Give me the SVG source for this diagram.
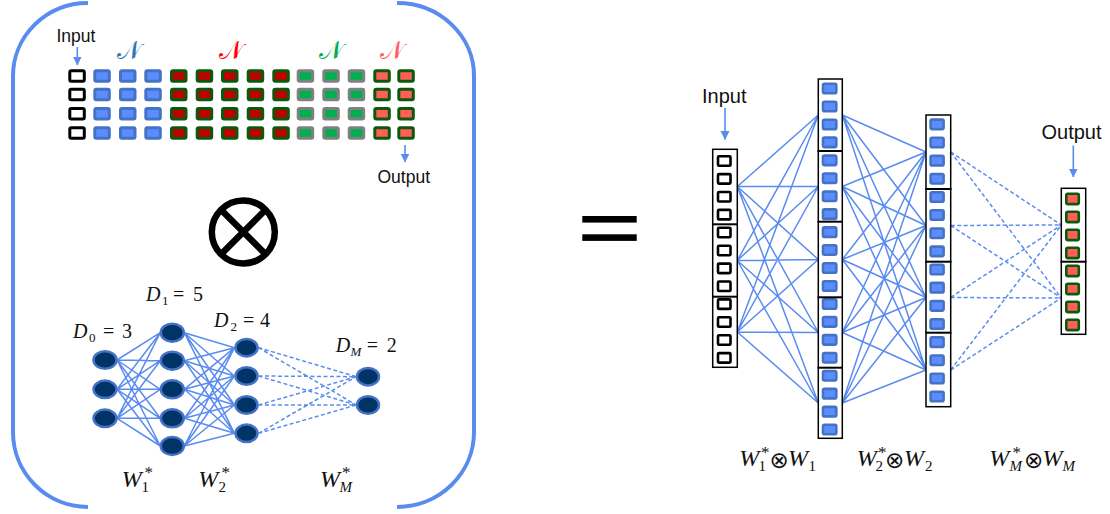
<svg xmlns="http://www.w3.org/2000/svg" width="1110" height="514" viewBox="0 0 1110 514">
  <defs>
    <marker id="arrow" markerWidth="9" markerHeight="10" refX="8.5" refY="5" orient="auto" markerUnits="userSpaceOnUse">
      <path d="M0,0.5 L9,5 L0,9.5 Z" fill="#5A8CF0"/>
    </marker>
    <style>
      .frame { fill: none; stroke: #5A8CF0; stroke-width: 4; }
      .lbl { font-family: "Liberation Sans", Arial, sans-serif; fill: #111; }
      .arr { stroke: #5A8CF0; stroke-width: 1.6; fill: none; marker-end: url(#arrow); }
      .scr { font-family: "DejaVu Serif", "Noto Sans", serif; font-size: 25px; text-anchor: middle; }
      .m { font-family: "Liberation Serif", "Times New Roman", serif; fill: #111; }
      .it { font-style: italic; }
      .op { font-family: "DejaVu Sans", sans-serif; }
      .c-in { fill: #fff; stroke: #000; stroke-width: 3; }
      .c-bl { fill: #5B8DFF; stroke: #4472C4; stroke-width: 3; }
      .c-rd { fill: #C00000; stroke: #0B5A0B; stroke-width: 3; }
      .c-gr { fill: #00B050; stroke: #808080; stroke-width: 3; }
      .c-sa { fill: #FF5F57; stroke: #0B5A0B; stroke-width: 3; }
      .r-in { fill: #fff; stroke: #000; stroke-width: 2.6; }
      .r-bl { fill: #5B8DFF; stroke: #4472C4; stroke-width: 2.6; }
      .r-sa { fill: #FF5F57; stroke: #0B5A0B; stroke-width: 2.6; }
      .col { fill: #fff; stroke: #000; stroke-width: 1.5; }
      .div { stroke: #000; stroke-width: 2; }
      .node { fill: #003366; stroke: #4472C4; stroke-width: 2.5; }
      .w { stroke: #5A8CF0; stroke-width: 1.5; fill: none; }
      .wd { stroke: #5A8CF0; stroke-width: 1.5; fill: none; stroke-dasharray: 4 2.5; }
    </style>
  </defs>

  <rect width="1110" height="514" fill="#fff"/>

  <!-- bracket frame around the left panel -->
  <g id="frame">
    <path class="frame" d="M88,3 A75,73 0 0 0 13,76 L13,432 A75,75 0 0 0 88,507"/>
    <path class="frame" d="M397,3 A77,73 0 0 1 474,76 L474,432 A77,75 0 0 1 397,507"/>
  </g>

  <!-- connectors -->
  <g id="connectors">
    <!-- left panel: grid input/output arrows -->
    <line class="arr" x1="77.3" y1="47" x2="77.3" y2="65"/>
    <line class="arr" x1="405" y1="145" x2="405" y2="162"/>
    <!-- left panel: small network -->
    <path class="w" d="M117,360 L160.3,332.7 M117,360 L160.3,360.7 M117,360 L160.3,389.3 M117,360 L160.3,418.3 M117,360 L160.3,446
      M117,389.3 L160.3,332.7 M117,389.3 L160.3,360.7 M117,389.3 L160.3,389.3 M117,389.3 L160.3,418.3 M117,389.3 L160.3,446
      M117,418.3 L160.3,332.7 M117,418.3 L160.3,360.7 M117,418.3 L160.3,389.3 M117,418.3 L160.3,418.3 M117,418.3 L160.3,446"/>
    <path class="w" d="M184.3,332.7 L234.5,347.7 M184.3,332.7 L234.5,376 M184.3,332.7 L234.5,405 M184.3,332.7 L234.5,433.3
      M184.3,360.7 L234.5,347.7 M184.3,360.7 L234.5,376 M184.3,360.7 L234.5,405 M184.3,360.7 L234.5,433.3
      M184.3,389.3 L234.5,347.7 M184.3,389.3 L234.5,376 M184.3,389.3 L234.5,405 M184.3,389.3 L234.5,433.3
      M184.3,418.3 L234.5,347.7 M184.3,418.3 L234.5,376 M184.3,418.3 L234.5,405 M184.3,418.3 L234.5,433.3
      M184.3,446 L234.5,347.7 M184.3,446 L234.5,376 M184.3,446 L234.5,405 M184.3,446 L234.5,433.3"/>
    <path class="wd" d="M258.5,347.7 L356.3,376.7 M258.5,347.7 L356.3,405
      M258.5,376 L356.3,376.7 M258.5,376 L356.3,405
      M258.5,405 L356.3,376.7 M258.5,405 L356.3,405
      M258.5,433.3 L356.3,376.7 M258.5,433.3 L356.3,405"/>

    <!-- right side: input/output arrows -->
    <line class="arr" x1="725" y1="108" x2="725" y2="139.5"/>
    <line class="arr" x1="1073.3" y1="145.5" x2="1073.3" y2="177"/>
    <!-- right side: expanded network -->
    <path class="w" d="M737.3,186.5 L818.3,115 M737.3,186.5 L818.3,186.5 M737.3,186.5 L818.3,259.5 M737.3,186.5 L818.3,332.5 M737.3,186.5 L818.3,403
      M737.3,260.5 L818.3,115 M737.3,260.5 L818.3,186.5 M737.3,260.5 L818.3,259.5 M737.3,260.5 L818.3,332.5 M737.3,260.5 L818.3,403
      M737.3,332 L818.3,115 M737.3,332 L818.3,186.5 M737.3,332 L818.3,259.5 M737.3,332 L818.3,332.5 M737.3,332 L818.3,403"/>
    <path class="w" d="M842.3,115 L926,152 M842.3,115 L926,225.5 M842.3,115 L926,297.5 M842.3,115 L926,370
      M842.3,186.5 L926,152 M842.3,186.5 L926,225.5 M842.3,186.5 L926,297.5 M842.3,186.5 L926,370
      M842.3,259.5 L926,152 M842.3,259.5 L926,225.5 M842.3,259.5 L926,297.5 M842.3,259.5 L926,370
      M842.3,332.5 L926,152 M842.3,332.5 L926,225.5 M842.3,332.5 L926,297.5 M842.3,332.5 L926,370
      M842.3,403 L926,152 M842.3,403 L926,225.5 M842.3,403 L926,297.5 M842.3,403 L926,370"/>
    <path class="wd" d="M950.7,152 L1061.3,225 M950.7,152 L1061.3,298
      M950.7,225.5 L1061.3,225 M950.7,225.5 L1061.3,298
      M950.7,297.5 L1061.3,225 M950.7,297.5 L1061.3,298
      M950.7,370 L1061.3,225 M950.7,370 L1061.3,298"/>
  </g>

  <!-- left panel: block grid -->
  <g id="grid-labels">
    <text class="lbl" x="56.5" y="42" font-size="17.5">Input</text>
    <text class="lbl" x="377.5" y="183" font-size="17.5">Output</text>
    <text class="scr" x="129" y="59" fill="#2E75B6">𝒩</text>
    <text class="scr" x="231" y="59" fill="#FF0000">𝒩</text>
    <text class="scr" x="331" y="59" fill="#00B050">𝒩</text>
    <text class="scr" x="392" y="59" fill="#FF5F5F">𝒩</text>
  </g>
  <g id="grid-input">
    <rect class="c-in" x="69.8" y="70.8" width="14.5" height="10.5" rx="1.5"/>
    <rect class="c-in" x="69.8" y="89.3" width="14.5" height="10.5" rx="1.5"/>
    <rect class="c-in" x="69.8" y="108.5" width="14.5" height="10.5" rx="1.5"/>
    <rect class="c-in" x="69.8" y="127.8" width="14.5" height="10.5" rx="1.5"/>
  </g>
  <g id="grid-blue">
    <rect class="c-bl" x="94.8" y="70.8" width="14.5" height="10.5" rx="1.5"/>
    <rect class="c-bl" x="94.8" y="89.3" width="14.5" height="10.5" rx="1.5"/>
    <rect class="c-bl" x="94.8" y="108.5" width="14.5" height="10.5" rx="1.5"/>
    <rect class="c-bl" x="94.8" y="127.8" width="14.5" height="10.5" rx="1.5"/>
    <rect class="c-bl" x="120.5" y="70.8" width="14.5" height="10.5" rx="1.5"/>
    <rect class="c-bl" x="120.5" y="89.3" width="14.5" height="10.5" rx="1.5"/>
    <rect class="c-bl" x="120.5" y="108.5" width="14.5" height="10.5" rx="1.5"/>
    <rect class="c-bl" x="120.5" y="127.8" width="14.5" height="10.5" rx="1.5"/>
    <rect class="c-bl" x="145.8" y="70.8" width="14.5" height="10.5" rx="1.5"/>
    <rect class="c-bl" x="145.8" y="89.3" width="14.5" height="10.5" rx="1.5"/>
    <rect class="c-bl" x="145.8" y="108.5" width="14.5" height="10.5" rx="1.5"/>
    <rect class="c-bl" x="145.8" y="127.8" width="14.5" height="10.5" rx="1.5"/>
  </g>
  <g id="grid-red">
    <rect class="c-rd" x="171.5" y="70.8" width="14.5" height="10.5" rx="1.5"/>
    <rect class="c-rd" x="171.5" y="89.3" width="14.5" height="10.5" rx="1.5"/>
    <rect class="c-rd" x="171.5" y="108.5" width="14.5" height="10.5" rx="1.5"/>
    <rect class="c-rd" x="171.5" y="127.8" width="14.5" height="10.5" rx="1.5"/>
    <rect class="c-rd" x="197.2" y="70.8" width="14.5" height="10.5" rx="1.5"/>
    <rect class="c-rd" x="197.2" y="89.3" width="14.5" height="10.5" rx="1.5"/>
    <rect class="c-rd" x="197.2" y="108.5" width="14.5" height="10.5" rx="1.5"/>
    <rect class="c-rd" x="197.2" y="127.8" width="14.5" height="10.5" rx="1.5"/>
    <rect class="c-rd" x="222.5" y="70.8" width="14.5" height="10.5" rx="1.5"/>
    <rect class="c-rd" x="222.5" y="89.3" width="14.5" height="10.5" rx="1.5"/>
    <rect class="c-rd" x="222.5" y="108.5" width="14.5" height="10.5" rx="1.5"/>
    <rect class="c-rd" x="222.5" y="127.8" width="14.5" height="10.5" rx="1.5"/>
    <rect class="c-rd" x="248.2" y="70.8" width="14.5" height="10.5" rx="1.5"/>
    <rect class="c-rd" x="248.2" y="89.3" width="14.5" height="10.5" rx="1.5"/>
    <rect class="c-rd" x="248.2" y="108.5" width="14.5" height="10.5" rx="1.5"/>
    <rect class="c-rd" x="248.2" y="127.8" width="14.5" height="10.5" rx="1.5"/>
    <rect class="c-rd" x="273.8" y="70.8" width="14.5" height="10.5" rx="1.5"/>
    <rect class="c-rd" x="273.8" y="89.3" width="14.5" height="10.5" rx="1.5"/>
    <rect class="c-rd" x="273.8" y="108.5" width="14.5" height="10.5" rx="1.5"/>
    <rect class="c-rd" x="273.8" y="127.8" width="14.5" height="10.5" rx="1.5"/>
  </g>
  <g id="grid-green">
    <rect class="c-gr" x="298.2" y="70.8" width="14.5" height="10.5" rx="1.5"/>
    <rect class="c-gr" x="298.2" y="89.3" width="14.5" height="10.5" rx="1.5"/>
    <rect class="c-gr" x="298.2" y="108.5" width="14.5" height="10.5" rx="1.5"/>
    <rect class="c-gr" x="298.2" y="127.8" width="14.5" height="10.5" rx="1.5"/>
    <rect class="c-gr" x="323.8" y="70.8" width="14.5" height="10.5" rx="1.5"/>
    <rect class="c-gr" x="323.8" y="89.3" width="14.5" height="10.5" rx="1.5"/>
    <rect class="c-gr" x="323.8" y="108.5" width="14.5" height="10.5" rx="1.5"/>
    <rect class="c-gr" x="323.8" y="127.8" width="14.5" height="10.5" rx="1.5"/>
    <rect class="c-gr" x="349.2" y="70.8" width="14.5" height="10.5" rx="1.5"/>
    <rect class="c-gr" x="349.2" y="89.3" width="14.5" height="10.5" rx="1.5"/>
    <rect class="c-gr" x="349.2" y="108.5" width="14.5" height="10.5" rx="1.5"/>
    <rect class="c-gr" x="349.2" y="127.8" width="14.5" height="10.5" rx="1.5"/>
  </g>
  <g id="grid-output">
    <rect class="c-sa" x="374.8" y="70.8" width="14.5" height="10.5" rx="1.5"/>
    <rect class="c-sa" x="374.8" y="89.3" width="14.5" height="10.5" rx="1.5"/>
    <rect class="c-sa" x="374.8" y="108.5" width="14.5" height="10.5" rx="1.5"/>
    <rect class="c-sa" x="374.8" y="127.8" width="14.5" height="10.5" rx="1.5"/>
    <rect class="c-sa" x="398.8" y="70.8" width="14.5" height="10.5" rx="1.5"/>
    <rect class="c-sa" x="398.8" y="89.3" width="14.5" height="10.5" rx="1.5"/>
    <rect class="c-sa" x="398.8" y="108.5" width="14.5" height="10.5" rx="1.5"/>
    <rect class="c-sa" x="398.8" y="127.8" width="14.5" height="10.5" rx="1.5"/>
  </g>

  <!-- tensor product sign -->
  <g id="otimes" fill="none" stroke="#000" stroke-width="6.5">
    <circle cx="243.3" cy="232" r="31.5"/>
    <line x1="221" y1="209.7" x2="265.6" y2="254.3"/>
    <line x1="265.6" y1="209.7" x2="221" y2="254.3"/>
  </g>

  <!-- left panel: small network layers -->
  <g id="layer-0">
    <ellipse class="node" cx="105" cy="360" rx="11.5" ry="8.7"/>
    <ellipse class="node" cx="105" cy="389.3" rx="11.5" ry="8.7"/>
    <ellipse class="node" cx="105" cy="418.3" rx="11.5" ry="8.7"/>
    <text class="m" y="338" font-size="20"><tspan class="it" x="73">D</tspan><tspan x="89" y="342" font-size="13">0</tspan><tspan x="103" y="338">=</tspan><tspan x="122">3</tspan></text>
  </g>
  <g id="layer-1">
    <ellipse class="node" cx="172.3" cy="332.7" rx="11.5" ry="9"/>
    <ellipse class="node" cx="172.3" cy="360.7" rx="11.5" ry="9"/>
    <ellipse class="node" cx="172.3" cy="389.3" rx="11.5" ry="9"/>
    <ellipse class="node" cx="172.3" cy="418.3" rx="11.5" ry="9"/>
    <ellipse class="node" cx="172.3" cy="446" rx="11.5" ry="9"/>
    <text class="m" y="300.7" font-size="20"><tspan class="it" x="146">D</tspan><tspan x="162" y="304.7" font-size="13">1</tspan><tspan x="173" y="300.7">=</tspan><tspan x="193">5</tspan></text>
  </g>
  <g id="layer-2">
    <ellipse class="node" cx="246.5" cy="347.7" rx="11" ry="8.7"/>
    <ellipse class="node" cx="246.5" cy="376" rx="11" ry="8.7"/>
    <ellipse class="node" cx="246.5" cy="405" rx="11" ry="8.7"/>
    <ellipse class="node" cx="246.5" cy="433.3" rx="11" ry="8.7"/>
    <text class="m" y="326.7" font-size="20"><tspan class="it" x="214">D</tspan><tspan x="230.5" y="330.7" font-size="13">2</tspan><tspan x="243" y="326.7">=</tspan><tspan x="260">4</tspan></text>
  </g>
  <g id="layer-M">
    <ellipse class="node" cx="368" cy="376.7" rx="11" ry="8.7"/>
    <ellipse class="node" cx="368" cy="405" rx="11" ry="8.7"/>
    <text class="m" y="351.7" font-size="20"><tspan class="it" x="335.7">D</tspan><tspan class="it" x="350.5" y="355.7" font-size="13">M</tspan><tspan x="366.7" y="351.7">=</tspan><tspan x="386.7">2</tspan></text>
  </g>
  <g id="weight-labels">
    <text class="m" y="486.7" font-size="24"><tspan class="it" x="121.7">W</tspan><tspan x="141.5" y="492" font-size="15">1</tspan><tspan x="144.5" y="478" font-size="17">*</tspan></text>
    <text class="m" y="486.7" font-size="24"><tspan class="it" x="198.3">W</tspan><tspan x="218.5" y="492" font-size="15">2</tspan><tspan x="221.5" y="478" font-size="17">*</tspan></text>
    <text class="m" y="486.7" font-size="24"><tspan class="it" x="320">W</tspan><tspan class="it" x="339.5" y="492" font-size="15">M</tspan><tspan x="342" y="478" font-size="17">*</tspan></text>
  </g>

  <!-- equals sign -->
  <g id="equals" fill="#000">
    <rect x="582.3" y="216" width="54.4" height="6.6"/>
    <rect x="582.3" y="234.3" width="54.4" height="6.6"/>
  </g>

  <!-- right side: input column -->
  <g id="col-input">
    <text class="lbl" x="702" y="103.3" font-size="20">Input</text>
    <rect class="col" x="712.7" y="149.3" width="24.6" height="218"/>
    <rect class="r-in" x="718" y="156.2" width="12.5" height="9.5" rx="1"/>
    <rect class="r-in" x="718" y="174.1" width="12.5" height="9.5" rx="1"/>
    <rect class="r-in" x="718" y="192" width="12.5" height="9.5" rx="1"/>
    <rect class="r-in" x="718" y="209.9" width="12.5" height="9.5" rx="1"/>
    <rect class="r-in" x="718" y="227.8" width="12.5" height="9.5" rx="1"/>
    <rect class="r-in" x="718" y="245.7" width="12.5" height="9.5" rx="1"/>
    <rect class="r-in" x="718" y="263.6" width="12.5" height="9.5" rx="1"/>
    <rect class="r-in" x="718" y="281.5" width="12.5" height="9.5" rx="1"/>
    <rect class="r-in" x="718" y="299.4" width="12.5" height="9.5" rx="1"/>
    <rect class="r-in" x="718" y="317.3" width="12.5" height="9.5" rx="1"/>
    <rect class="r-in" x="718" y="335.2" width="12.5" height="9.5" rx="1"/>
    <rect class="r-in" x="718" y="353.1" width="12.5" height="9.5" rx="1"/>
    <line class="div" x1="712" y1="224.3" x2="738" y2="224.3"/>
    <line class="div" x1="712" y1="296.7" x2="738" y2="296.7"/>
  </g>

  <!-- right side: first hidden column -->
  <g id="col-hidden-1">
    <rect class="col" x="818.3" y="79" width="24" height="359.3"/>
    <rect class="r-bl" x="823" y="83.8" width="13.3" height="9.5" rx="1.5"/>
    <rect class="r-bl" x="823" y="101.7" width="13.3" height="9.5" rx="1.5"/>
    <rect class="r-bl" x="823" y="119.7" width="13.3" height="9.5" rx="1.5"/>
    <rect class="r-bl" x="823" y="137.6" width="13.3" height="9.5" rx="1.5"/>
    <rect class="r-bl" x="823" y="155.6" width="13.3" height="9.5" rx="1.5"/>
    <rect class="r-bl" x="823" y="173.5" width="13.3" height="9.5" rx="1.5"/>
    <rect class="r-bl" x="823" y="191.5" width="13.3" height="9.5" rx="1.5"/>
    <rect class="r-bl" x="823" y="209.4" width="13.3" height="9.5" rx="1.5"/>
    <rect class="r-bl" x="823" y="227.4" width="13.3" height="9.5" rx="1.5"/>
    <rect class="r-bl" x="823" y="245.3" width="13.3" height="9.5" rx="1.5"/>
    <rect class="r-bl" x="823" y="263.3" width="13.3" height="9.5" rx="1.5"/>
    <rect class="r-bl" x="823" y="281.2" width="13.3" height="9.5" rx="1.5"/>
    <rect class="r-bl" x="823" y="299.2" width="13.3" height="9.5" rx="1.5"/>
    <rect class="r-bl" x="823" y="317.1" width="13.3" height="9.5" rx="1.5"/>
    <rect class="r-bl" x="823" y="335.1" width="13.3" height="9.5" rx="1.5"/>
    <rect class="r-bl" x="823" y="353" width="13.3" height="9.5" rx="1.5"/>
    <rect class="r-bl" x="823" y="371" width="13.3" height="9.5" rx="1.5"/>
    <rect class="r-bl" x="823" y="388.9" width="13.3" height="9.5" rx="1.5"/>
    <rect class="r-bl" x="823" y="406.9" width="13.3" height="9.5" rx="1.5"/>
    <rect class="r-bl" x="823" y="424.8" width="13.3" height="9.5" rx="1.5"/>
    <line class="div" x1="817.5" y1="151" x2="843" y2="151"/>
    <line class="div" x1="817.5" y1="221.7" x2="843" y2="221.7"/>
    <line class="div" x1="817.5" y1="297.3" x2="843" y2="297.3"/>
    <line class="div" x1="817.5" y1="367.7" x2="843" y2="367.7"/>
  </g>

  <!-- right side: second hidden column -->
  <g id="col-hidden-2">
    <rect class="col" x="926" y="115" width="24.7" height="291.7"/>
    <rect class="r-bl" x="930.6" y="119.6" width="13" height="9.5" rx="1.5"/>
    <rect class="r-bl" x="930.6" y="137.7" width="13" height="9.5" rx="1.5"/>
    <rect class="r-bl" x="930.6" y="155.9" width="13" height="9.5" rx="1.5"/>
    <rect class="r-bl" x="930.6" y="174" width="13" height="9.5" rx="1.5"/>
    <rect class="r-bl" x="930.6" y="192.2" width="13" height="9.5" rx="1.5"/>
    <rect class="r-bl" x="930.6" y="210.3" width="13" height="9.5" rx="1.5"/>
    <rect class="r-bl" x="930.6" y="228.5" width="13" height="9.5" rx="1.5"/>
    <rect class="r-bl" x="930.6" y="246.6" width="13" height="9.5" rx="1.5"/>
    <rect class="r-bl" x="930.6" y="264.8" width="13" height="9.5" rx="1.5"/>
    <rect class="r-bl" x="930.6" y="282.9" width="13" height="9.5" rx="1.5"/>
    <rect class="r-bl" x="930.6" y="301.1" width="13" height="9.5" rx="1.5"/>
    <rect class="r-bl" x="930.6" y="319.2" width="13" height="9.5" rx="1.5"/>
    <rect class="r-bl" x="930.6" y="337.4" width="13" height="9.5" rx="1.5"/>
    <rect class="r-bl" x="930.6" y="355.5" width="13" height="9.5" rx="1.5"/>
    <rect class="r-bl" x="930.6" y="373.7" width="13" height="9.5" rx="1.5"/>
    <rect class="r-bl" x="930.6" y="391.8" width="13" height="9.5" rx="1.5"/>
    <line class="div" x1="925.2" y1="189" x2="951.5" y2="189"/>
    <line class="div" x1="925.2" y1="261.7" x2="951.5" y2="261.7"/>
    <line class="div" x1="925.2" y1="332.7" x2="951.5" y2="332.7"/>
  </g>

  <!-- right side: output column -->
  <g id="col-output">
    <text class="lbl" x="1041.5" y="139" font-size="20">Output</text>
    <rect class="col" x="1061.3" y="188.3" width="24.4" height="146"/>
    <rect class="r-sa" x="1066.3" y="193.8" width="12.5" height="10.3" rx="1.5"/>
    <rect class="r-sa" x="1066.3" y="211.8" width="12.5" height="10.3" rx="1.5"/>
    <rect class="r-sa" x="1066.3" y="229.8" width="12.5" height="10.3" rx="1.5"/>
    <rect class="r-sa" x="1066.3" y="247.8" width="12.5" height="10.3" rx="1.5"/>
    <rect class="r-sa" x="1066.3" y="265.8" width="12.5" height="10.3" rx="1.5"/>
    <rect class="r-sa" x="1066.3" y="283.8" width="12.5" height="10.3" rx="1.5"/>
    <rect class="r-sa" x="1066.3" y="301.8" width="12.5" height="10.3" rx="1.5"/>
    <rect class="r-sa" x="1066.3" y="319.8" width="12.5" height="10.3" rx="1.5"/>
    <line class="div" x1="1060.5" y1="261.7" x2="1086.5" y2="261.7"/>
  </g>

  <!-- right side: combined weight labels -->
  <g id="kron-labels">
    <text class="m" y="466" font-size="24"><tspan class="it" x="739.3">W</tspan><tspan x="758.5" y="471" font-size="15">1</tspan><tspan x="761" y="457.5" font-size="17">*</tspan><tspan class="op" x="769.5" y="467.5" font-size="23">⊗</tspan><tspan class="it" x="788" y="466" font-size="24">W</tspan><tspan x="808.5" y="471" font-size="15">1</tspan></text>
    <text class="m" y="466" font-size="24"><tspan class="it" x="856.7">W</tspan><tspan x="875.5" y="471" font-size="15">2</tspan><tspan x="878" y="457.5" font-size="17">*</tspan><tspan class="op" x="885" y="467.5" font-size="23">⊗</tspan><tspan class="it" x="904" y="466" font-size="24">W</tspan><tspan x="925" y="471" font-size="15">2</tspan></text>
    <text class="m" y="466" font-size="24"><tspan class="it" x="989.3">W</tspan><tspan class="it" x="1009.5" y="471" font-size="15">M</tspan><tspan x="1012.5" y="457.5" font-size="17">*</tspan><tspan class="op" x="1024" y="467.5" font-size="23">⊗</tspan><tspan class="it" x="1042.5" y="466" font-size="24">W</tspan><tspan class="it" x="1062.5" y="471" font-size="15">M</tspan></text>
  </g>
</svg>
